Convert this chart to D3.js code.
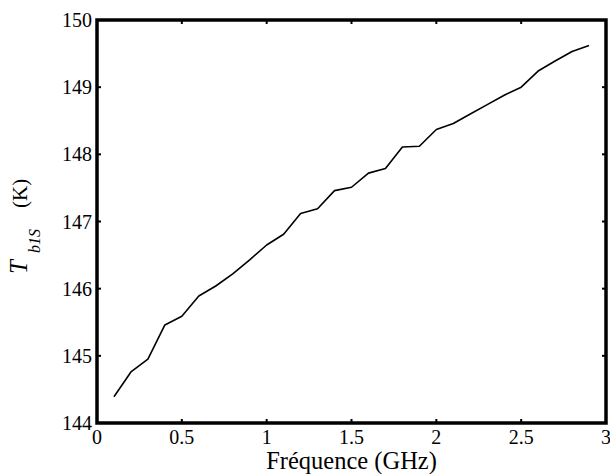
<!DOCTYPE html>
<html><head><meta charset="utf-8">
<script src="https://cdn.jsdelivr.net/npm/d3@7"></script>
<style>body{margin:0;background:#fff}svg{display:block}</style>
</head><body>
<svg id="c" width="610" height="474"></svg>
<script>
const freq = [0.1,0.2,0.3,0.4,0.5,0.6,0.7,0.8,0.9,1.0,1.1,1.2,1.3,1.4,1.5,1.6,1.7,1.8,1.9,2.0,2.1,2.2,2.3,2.4,2.5,2.6,2.7,2.8,2.9];
const tb = [144.39,144.76,144.95,145.46,145.59,145.89,146.04,146.22,146.43,146.65,146.81,147.12,147.19,147.46,147.51,147.72,147.79,148.11,148.12,148.37,148.46,148.60,148.74,148.88,149.00,149.24,149.39,149.53,149.62];
const xTicks = [0,0.5,1,1.5,2,2.5,3];
const yTicks = [144,145,146,147,148,149,150];

const FONT = "Liberation Serif";
const L=97, R=606, T=20, B=423;
const svg = d3.select("#c");
const x = d3.scaleLinear().domain([0,3]).range([L,R]);
const y = d3.scaleLinear().domain([144,150]).range([B,T]);

const tk = 4;
const g = svg.append("g");
g.selectAll(".xb").data(xTicks).join("line").attr("x1",d=>x(d)).attr("x2",d=>x(d)).attr("y1",B).attr("y2",B-tk).attr("stroke","#000").attr("stroke-width",2);
g.selectAll(".xt").data(xTicks).join("line").attr("x1",d=>x(d)).attr("x2",d=>x(d)).attr("y1",T).attr("y2",T+tk).attr("stroke","#000").attr("stroke-width",2);
g.selectAll(".yl").data(yTicks).join("line").attr("y1",d=>y(d)).attr("y2",d=>y(d)).attr("x1",L).attr("x2",L+tk).attr("stroke","#000").attr("stroke-width",2);
g.selectAll(".yr").data(yTicks).join("line").attr("y1",d=>y(d)).attr("y2",d=>y(d)).attr("x1",R).attr("x2",R-tk).attr("stroke","#000").attr("stroke-width",2);

svg.append("path").datum(freq.map((f,i)=>[f,tb[i]]))
  .attr("fill","none").attr("stroke","#000").attr("stroke-width",1.6).attr("stroke-linejoin","round")
  .attr("d", d3.line().x(d=>x(d[0])).y(d=>y(d[1])));

svg.append("rect").attr("x",L).attr("y",T).attr("width",R-L).attr("height",B-T)
  .attr("fill","none").attr("stroke","#000").attr("stroke-width",3.5);

svg.selectAll(".xlab").data(xTicks).join("text")
  .attr("font-family",FONT)
  .attr("x",d=>x(d)).attr("y",B+21).attr("text-anchor","middle").attr("font-size",20)
  .text(d=>d3.format("~g")(d));
svg.selectAll(".ylab").data(yTicks).join("text")
  .attr("font-family",FONT)
  .attr("x",L-5).attr("y",d=>y(d)+7).attr("text-anchor","end").attr("font-size",20)
  .text(d=>d);

svg.append("text").attr("font-family",FONT).attr("x",(L+R)/2).attr("y",469).attr("text-anchor","middle").attr("font-size",24.5)
  .text("Fréquence (GHz)");

// y title: T_{b1S} (K), rotated
svg.append("text").attr("font-family",FONT).attr("font-style","italic").attr("font-size",25)
  .attr("transform","translate(27,274) rotate(-90)").text("T");
svg.append("text").attr("font-family",FONT).attr("font-style","italic").attr("font-size",16)
  .attr("transform","translate(40,253) rotate(-90)").text("b1S");
svg.append("text").attr("font-family",FONT).attr("font-size",21)
  .attr("transform","translate(27,208) rotate(-90)").text("(K)");
</script>
</body></html>
